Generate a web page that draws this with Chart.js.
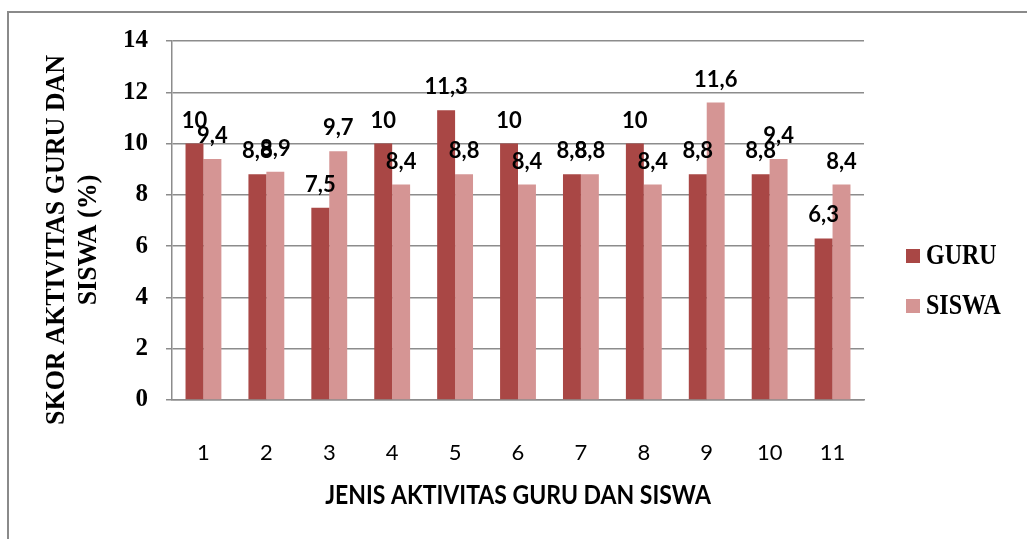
<!DOCTYPE html>
<html>
<head>
<meta charset="utf-8">
<script src="https://cdn.jsdelivr.net/npm/chart.js@4.4.1/dist/chart.umd.min.js"></script>
<style>
	html, body { margin: 0; padding: 0; background: #fff; overflow: hidden; }
	#wrap { position: relative; width: 1027px; height: 539px; }
	#frame { position: absolute; left: 7px; top: 11px; width: 1030px; height: 540px;
		border-left: 2px solid #8a8a8a; border-top: 2px solid #8a8a8a; }
	#chart { position: absolute; left: 0; top: 0; }
</style>
</head>
<body>
<div id="wrap">
	<div id="frame"></div>
	<canvas id="chart" width="1027" height="539"></canvas>
</div>
<script>
	// values
	var categories = [ '1', '2', '3', '4', '5', '6', '7', '8', '9', '10', '11' ];
	var guruValues = [ 10, 8.8, 7.5, 10, 11.3, 10, 8.8, 10, 8.8, 8.8, 6.3 ];
	var siswaValues = [ 9.4, 8.9, 9.7, 8.4, 8.8, 8.4, 8.8, 8.4, 11.6, 9.4, 8.4 ];
	var seriesNames = [ 'GURU', 'SISWA' ];
	var seriesColors = [ '#a94745', '#d59594' ];
	var yTitleLines = [ 'SKOR AKTIVITAS GURU DAN', 'SISWA (%)' ];
	var xTitle = 'JENIS AKTIVITAS GURU DAN SISWA';

	var gridColor = '#8c8c8c';
	var serif = '"Liberation Serif", "Times New Roman", serif';
	var sans = 'Lato, Carlito, "Open Sans", sans-serif';

	function formatValue(v) {
		return String(v).replace('.', ',');
	}

	// value labels above each bar, comma decimals like the original
	var valueLabels = {
		id : 'valueLabels',
		afterDatasetsDraw : function(chart) {
			var ctx = chart.ctx;
			ctx.save();
			ctx.font = 'bold 22px ' + sans;
			ctx.fillStyle = '#000';
			ctx.textAlign = 'center';
			ctx.textBaseline = 'alphabetic';
			chart.data.datasets.forEach(function(ds, i) {
				var meta = chart.getDatasetMeta(i);
				meta.data.forEach(function(bar, j) {
					ctx.fillText(formatValue(ds.data[j]), bar.x, bar.y - 16);
				});
			});
			ctx.restore();
		}
	};

	// axis titles and legend placed like the original figure
	var decorations = {
		id : 'decorations',
		afterDraw : function(chart) {
			var ctx = chart.ctx;
			var area = chart.chartArea;
			ctx.save();
			ctx.fillStyle = '#000';
			ctx.textAlign = 'center';
			ctx.textBaseline = 'middle';

			ctx.save();
			ctx.translate(57, 240);
			ctx.rotate(-Math.PI / 2);
			ctx.scale(1, 1.08);
			ctx.font = 'bold 26px ' + serif;
			ctx.fillText(yTitleLines[0], 0, 0);
			ctx.fillText(yTitleLines[1], 0, 29);
			ctx.restore();

			ctx.save();
			ctx.translate((area.left + area.right) / 2, 495);
			ctx.scale(1, 1.15);
			ctx.font = 'bold 23px ' + sans;
			ctx.fillText(xTitle, 0, 0);
			ctx.restore();

			ctx.textAlign = 'left';
			ctx.font = 'bold 24px ' + serif;
			chart.data.datasets.forEach(function(ds, i) {
				var y = 256 + i * 50;
				ctx.fillStyle = ds.backgroundColor;
				ctx.fillRect(906, y - 7, 14, 14);
				ctx.fillStyle = '#000';
				ctx.save();
				ctx.translate(926, y + 1);
				ctx.scale(1, 1.2);
				ctx.fillText(ds.label, 0, 0);
				ctx.restore();
			});
			ctx.restore();
		}
	};

	var ctx = document.getElementById('chart');
	new Chart(ctx, {
		type : 'bar',
		data : {
			labels : categories,
			datasets : [ {
				label : seriesNames[0],
				data : guruValues,
				backgroundColor : seriesColors[0]
			}, {
				label : seriesNames[1],
				data : siswaValues,
				backgroundColor : seriesColors[1]
			} ]
		},
		options : {
			responsive : false,
			animation : false,
			devicePixelRatio : 1,
			layout : {
				padding : {
					left : 0,
					top : 41,
					right : 163,
					bottom : 0
				}
			},
			datasets : {
				bar : {
					categoryPercentage : 0.57,
					barPercentage : 1
				}
			},
			plugins : {
				legend : {
					display : false
				},
				tooltip : {
					enabled : false
				}
			},
			scales : {
				x : {
					grid : {
						display : false
					},
					border : {
						display : true,
						color : gridColor,
						width : 1.5
					},
					ticks : {
						color : '#000',
						padding : 32,
						font : {
							family : sans,
							size : 22
						}
					},
					afterFit : function(scale) {
						scale.height = 139;
					}
				},
				y : {
					min : 0,
					max : 14,
					ticks : {
						stepSize : 2,
						color : '#000',
						padding : 18,
						font : {
							family : serif,
							size : 25,
							weight : 'bold'
						}
					},
					grid : {
						color : gridColor,
						lineWidth : 1.5,
						tickLength : 6
					},
					border : {
						display : true,
						color : gridColor,
						width : 1.5
					},
					afterFit : function(scale) {
						scale.width = 172;
					}
				}
			}
		},
		plugins : [ valueLabels, decorations ]
	});
</script>
</body>
</html>
